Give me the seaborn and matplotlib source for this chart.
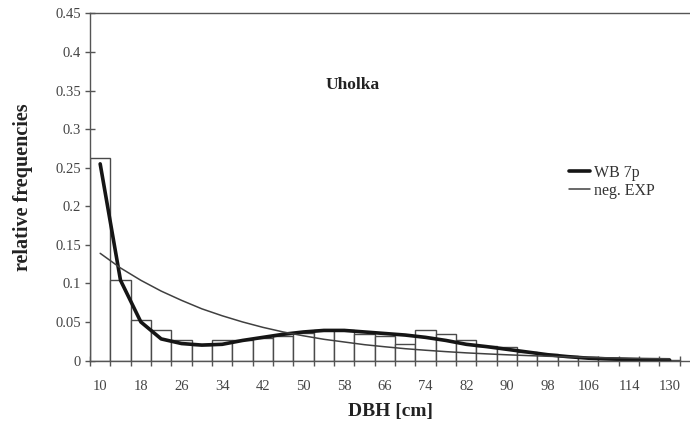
import numpy as np
import pandas as pd
import matplotlib
matplotlib.use("Agg")
import matplotlib.pyplot as plt
import seaborn as sns

# ---- data ----
categories = ["10", "14", "18", "22", "26", "30", "34", "38", "42", "46",
              "50", "54", "58", "62", "66", "70", "74", "78", "82", "86",
              "90", "94", "98", "102", "106", "110", "114", "122", "130"]
observed = [0.263, 0.104, 0.053, 0.039, 0.027, 0.020, 0.027, 0.027, 0.029, 0.032,
            0.036, 0.040, 0.040, 0.035, 0.032, 0.022, 0.040, 0.035, 0.026, 0.019,
            0.018, 0.0115, 0.009, 0.006, 0.004, 0.003, 0.002, 0.0012, 0.0008]
wb_7p = [0.255, 0.104, 0.050, 0.028, 0.022, 0.020, 0.021, 0.026, 0.030, 0.034,
         0.037, 0.039, 0.039, 0.037, 0.035, 0.033, 0.030, 0.026, 0.021, 0.018,
         0.0145, 0.011, 0.0075, 0.005, 0.003, 0.002, 0.0012, 0.0007, 0.0004]
neg_exp = [0.139, 0.120, 0.104, 0.090, 0.078, 0.067, 0.058, 0.050, 0.043, 0.037,
           0.032, 0.0275, 0.024, 0.0205, 0.0178, 0.0153, 0.0133, 0.0115, 0.0099, 0.0086,
           0.0074, 0.0064, 0.0055, 0.0047, 0.0041, 0.0035, 0.0030, 0.0026, 0.0023]
yticks = [0, 0.05, 0.1, 0.15, 0.2, 0.25, 0.3, 0.35, 0.4, 0.45]
ytick_labels = ["0", "0.05", "0.1", "0.15", "0.2", "0.25", "0.3", "0.35", "0.4", "0.45"]

df = pd.DataFrame({"dbh": categories, "freq": observed})
pos = np.arange(len(categories))

sns.set_theme(style="white")
plt.rcParams["font.family"] = ["Liberation Serif", "DejaVu Serif"]

W, H = 690, 423
fig = plt.figure(figsize=(W / 100, H / 100), dpi=100)
ax = fig.add_axes([90 / W, (H - 360.5) / H, 1 - 90 / W, (360.5 - 13.5) / H])

sns.barplot(data=df, x="dbh", y="freq", order=categories, color="white",
            edgecolor="#4a4a4a", linewidth=1.0, width=1.0, saturation=1, ax=ax)
sns.lineplot(x=pos, y=wb_7p, color="#151515", lw=2.6, ax=ax, label="WB 7p")
sns.lineplot(x=pos, y=neg_exp, color="#404040", lw=1.1, ax=ax, label="neg. EXP")

ax.set_xlim(-0.5, 29.0)
ax.set_ylim(0, 0.45)

# x ticks: marks between classes, labels on every other class
ax.set_xticks(np.arange(-0.5, 29.0, 1.0))
ax.set_xticklabels([""] * len(np.arange(-0.5, 29.0, 1.0)))
ax.set_xticks(pos[::2], minor=True)
ax.set_xticklabels(categories[::2], minor=True)
ax.tick_params(axis="x", which="major", direction="inout", length=7, width=1, color="#555555", bottom=True)
ax.tick_params(axis="x", which="minor", length=0, pad=14, labelsize=10.5, labelcolor="#444444", bottom=True)

ax.set_yticks(yticks)
ax.set_yticklabels(ytick_labels)
ax.tick_params(axis="y", direction="inout", length=7, width=1, color="#555555", left=True,
               labelsize=10.5, labelcolor="#444444", pad=3)

for side in ["left", "bottom", "top"]:
    ax.spines[side].set_visible(True)
    ax.spines[side].set_color("#555555")
    ax.spines[side].set_linewidth(1.0)
ax.spines["right"].set_visible(False)

ax.set_xlabel("DBH [cm]", fontsize=14, fontweight="bold", color="#222222", labelpad=7)
ax.set_ylabel("relative frequencies", fontsize=14.5, fontweight="bold", color="#222222", labelpad=16)

ax.text(0.437, 0.793, "Uholka", transform=ax.transAxes, ha="center", va="center",
        fontsize=12.5, fontweight="bold", color="#222222")

leg = ax.legend(loc="upper left", bbox_to_anchor=(0.788, 0.582), frameon=False,
                fontsize=11.5, handlelength=1.3, handletextpad=0.25, labelspacing=0.12,
                borderaxespad=0)
for t in leg.get_texts():
    t.set_color("#333333")

fig.savefig("out.png", dpi=100)
